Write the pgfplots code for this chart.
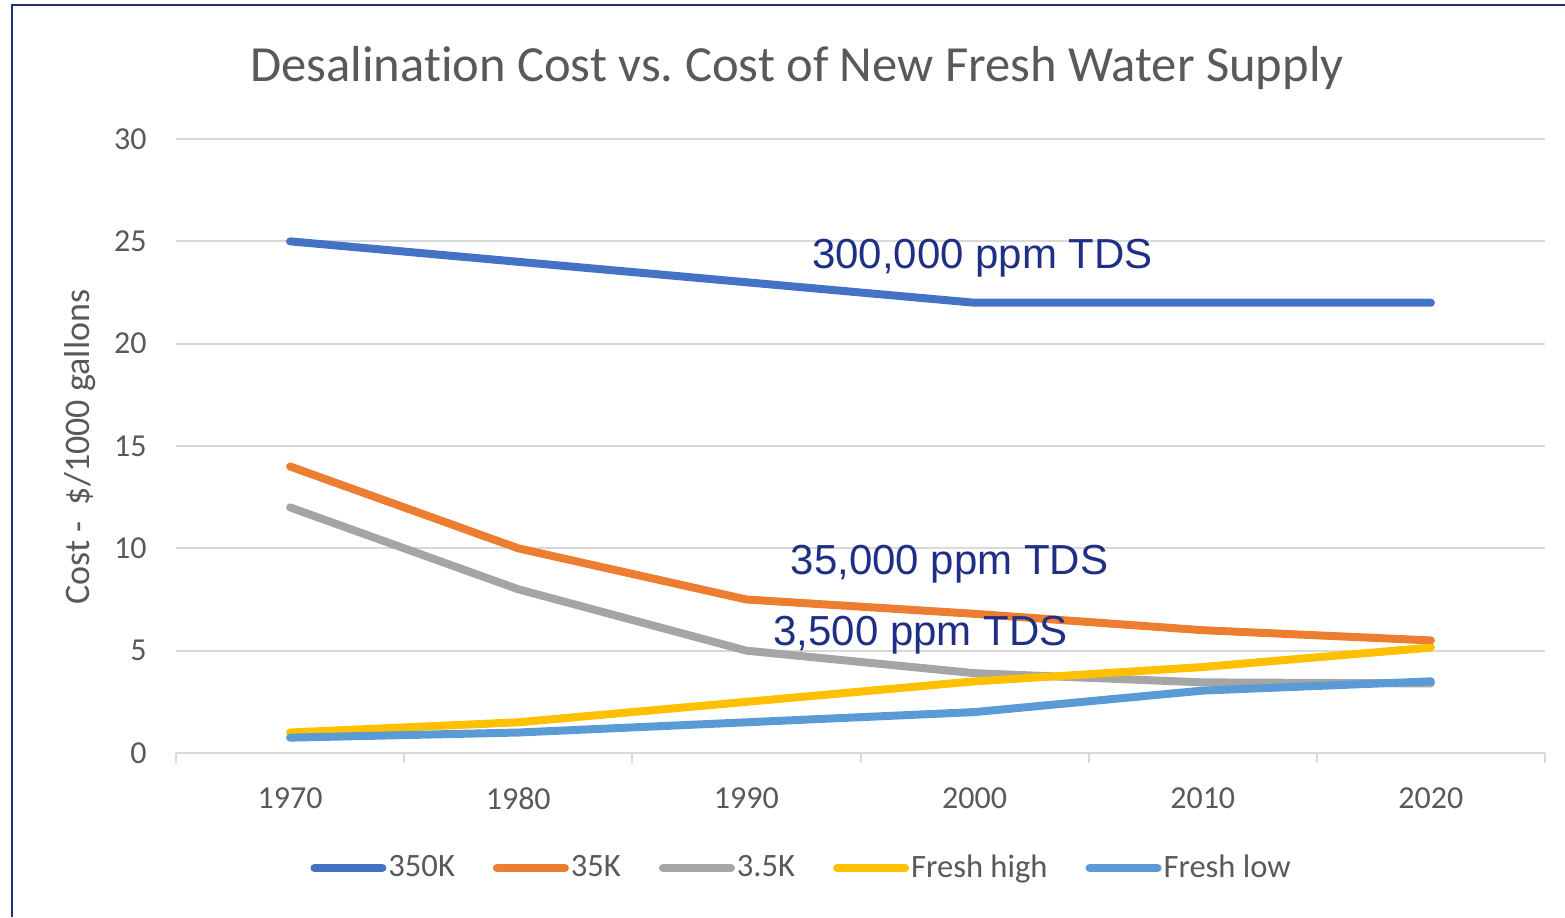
\documentclass[border=0pt]{standalone}
\usepackage{pgfplots}
\pgfplotsset{compat=1.18}
\usepackage{fontspec}
\setmainfont{Carlito}[Ligatures=NoCommon]
\newfontfamily\arial{Liberation Sans}
\definecolor{c350}{HTML}{4472C4}
\definecolor{c35}{HTML}{ED7D31}
\definecolor{c3}{HTML}{A5A5A5}
\definecolor{chigh}{HTML}{FFC000}
\definecolor{clow}{HTML}{5B9BD5}
\definecolor{txtgray}{HTML}{595959}
\definecolor{gridgray}{HTML}{D9D9D9}
\definecolor{navy}{HTML}{1F2D7A}
\definecolor{annot}{HTML}{1F2F86}

\begin{document}
\begin{tikzpicture}
\path[use as bounding box] (0,0) rectangle (782.5pt,458.5pt);
\draw[navy, line width=1.3pt] (6pt,0pt) -- (6pt,456pt) -- (790pt,456pt);

\node[anchor=base, text=txtgray, font=\fontsize{25.3}{25}\selectfont] at (398.5pt,417.5pt)
  {Desalination Cost vs.\ Cost of New Fresh Water Supply};
\node[rotate=90, text=txtgray, font=\fontsize{18}{18}\selectfont] at (40pt,235pt)
  {Cost -\ \ \$/1000 gallons};

\begin{axis}[
    at={(88pt,82pt)}, anchor=south west,
    scale only axis,
    width=684.5pt, height=307pt,
    xmin=-0.5, xmax=5.5,
    ymin=0, ymax=30,
    xtick={0,1,2,3,4,5},
    xticklabels={1970,1980,1990,2000,2010,2020},
    minor xtick={-0.5,0.5,1.5,2.5,3.5,4.5,5.5},
    ytick={0,5,10,15,20,25,30},
    major tick length=0pt,
    minor tick length=5pt,
    tick align=outside,
    minor x tick style={draw=gridgray, line width=1pt},
    ytick style={draw=none},
    axis x line*=bottom,
    axis y line*=left,
    y axis line style={draw=none},
    x axis line style={draw=gridgray, line width=1pt, -},
    ymajorgrids,
    major grid style={draw=gridgray, line width=1pt},
    /pgf/number format/assume math mode=true,
    tick label style={text=txtgray, font=\fontsize{16}{16}\selectfont},
    yticklabel style={anchor=east, inner sep=0pt, xshift=-14.5pt},
    xticklabel style={anchor=north, inner sep=0pt, yshift=-17pt},
    legend columns=5,
    legend style={at={(0.457,-0.187)}, anchor=center, draw=none, fill=none,
        font=\fontsize{16.3}{16}\selectfont, text=txtgray,
        nodes={inner sep=1pt},
        /tikz/every even column/.append style={column sep=18pt}},
    legend image code/.code={\draw[#1, line cap=round] (0pt,0pt) -- (34pt,0pt);},
    every axis plot/.append style={line width=4pt, line cap=round, line join=round},
    clip=false,
]
\addplot[c350] coordinates {(0,25) (1,24) (2,23) (3,22) (4,22) (5,22)};
\addlegendentry{350K}
\addplot[c35] coordinates {(0,14) (1,10) (2,7.5) (3,6.8) (4,6) (5,5.5)};
\addlegendentry{35K}
\addplot[c3] coordinates {(0,12) (1,8) (2,5) (3,3.9) (4,3.45) (5,3.4)};
\addlegendentry{3.5K}
\addplot[chigh] coordinates {(0,1) (1,1.5) (2,2.5) (3,3.5) (4,4.2) (5,5.15)};
\addlegendentry{Fresh high}
\addplot[clow] coordinates {(0,0.75) (1,1) (2,1.5) (3,2) (4,3.05) (5,3.5)};
\addlegendentry{Fresh low}

\node[anchor=base, text=annot, font=\arial\fontsize{21}{21}\selectfont] at (axis cs:3.035,23.69) {300,000 ppm TDS};
\node[anchor=base, text=annot, font=\arial\fontsize{21}{21}\selectfont] at (axis cs:2.89,8.74) {35,000 ppm TDS};
\node[anchor=base, text=annot, font=\arial\fontsize{21}{21}\selectfont] at (axis cs:2.763,5.23) {3,500 ppm TDS};
\end{axis}
\end{tikzpicture}
\end{document}
